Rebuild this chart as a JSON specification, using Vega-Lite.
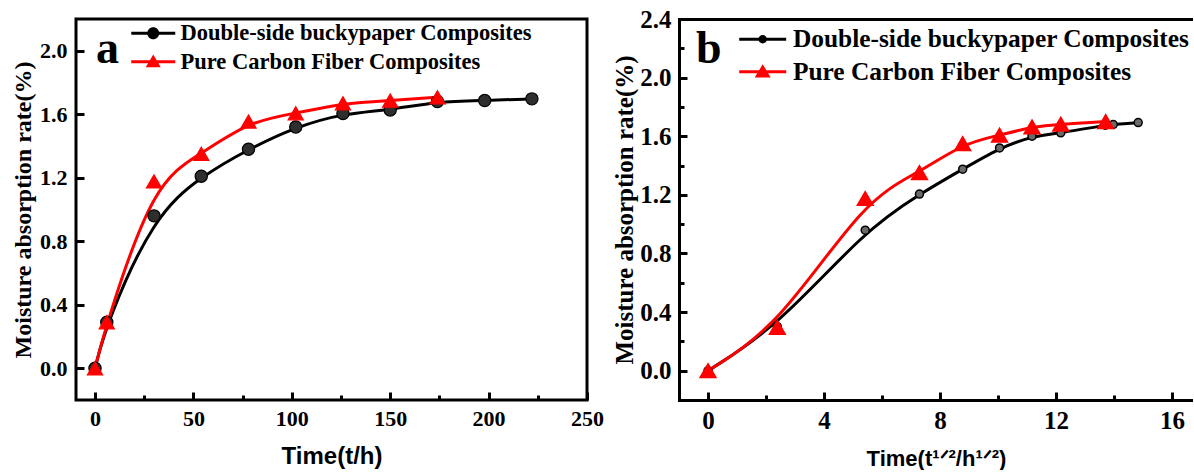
{
  "$schema": "https://vega.github.io/schema/vega-lite/v6.json",
  "background": "white",
  "padding": {"left": 10, "top": 7, "right": 0, "bottom": 0},
  "bounds": "flush",
  "spacing": 92,
  "config": {
    "font": "Liberation Serif",
    "view": {"stroke": "black", "strokeWidth": 3},
    "axis": {"grid": false, "labelColor": "black", "titleColor": "black", "tickColor": "black", "domainColor": "black"}
  },
  "datasets": {
    "a": [
      {"series": "Double-side buckypaper Composites", "t": 0, "rate": 0},
      {"series": "Double-side buckypaper Composites", "t": 6, "rate": 0.29},
      {"series": "Double-side buckypaper Composites", "t": 30, "rate": 0.96},
      {"series": "Double-side buckypaper Composites", "t": 54, "rate": 1.21},
      {"series": "Double-side buckypaper Composites", "t": 78, "rate": 1.38},
      {"series": "Double-side buckypaper Composites", "t": 102, "rate": 1.52},
      {"series": "Double-side buckypaper Composites", "t": 126, "rate": 1.605},
      {"series": "Double-side buckypaper Composites", "t": 150, "rate": 1.627},
      {"series": "Double-side buckypaper Composites", "t": 174, "rate": 1.68},
      {"series": "Double-side buckypaper Composites", "t": 198, "rate": 1.686},
      {"series": "Double-side buckypaper Composites", "t": 222, "rate": 1.697},
      {"series": "Pure Carbon Fiber Composites", "t": 0, "rate": 0},
      {"series": "Pure Carbon Fiber Composites", "t": 6, "rate": 0.29},
      {"series": "Pure Carbon Fiber Composites", "t": 30, "rate": 1.177},
      {"series": "Pure Carbon Fiber Composites", "t": 54, "rate": 1.351},
      {"series": "Pure Carbon Fiber Composites", "t": 78, "rate": 1.554},
      {"series": "Pure Carbon Fiber Composites", "t": 102, "rate": 1.606},
      {"series": "Pure Carbon Fiber Composites", "t": 126, "rate": 1.669},
      {"series": "Pure Carbon Fiber Composites", "t": 150, "rate": 1.686},
      {"series": "Pure Carbon Fiber Composites", "t": 174, "rate": 1.707}
    ],
    "b": [
      {"series": "Double-side buckypaper Composites", "t": 0, "rate": 0},
      {"series": "Double-side buckypaper Composites", "t": 2.39, "rate": 0.3},
      {"series": "Double-side buckypaper Composites", "t": 5.42, "rate": 0.959},
      {"series": "Double-side buckypaper Composites", "t": 7.29, "rate": 1.205},
      {"series": "Double-side buckypaper Composites", "t": 8.78, "rate": 1.375},
      {"series": "Double-side buckypaper Composites", "t": 10.05, "rate": 1.52},
      {"series": "Double-side buckypaper Composites", "t": 11.17, "rate": 1.6},
      {"series": "Double-side buckypaper Composites", "t": 12.16, "rate": 1.623},
      {"series": "Double-side buckypaper Composites", "t": 13.7, "rate": 1.675},
      {"series": "Double-side buckypaper Composites", "t": 13.97, "rate": 1.68},
      {"series": "Double-side buckypaper Composites", "t": 14.83, "rate": 1.693},
      {"series": "Pure Carbon Fiber Composites", "t": 0, "rate": 0},
      {"series": "Pure Carbon Fiber Composites", "t": 2.39, "rate": 0.295},
      {"series": "Pure Carbon Fiber Composites", "t": 5.42, "rate": 1.175},
      {"series": "Pure Carbon Fiber Composites", "t": 7.29, "rate": 1.352},
      {"series": "Pure Carbon Fiber Composites", "t": 8.78, "rate": 1.55},
      {"series": "Pure Carbon Fiber Composites", "t": 10.05, "rate": 1.607},
      {"series": "Pure Carbon Fiber Composites", "t": 11.17, "rate": 1.664},
      {"series": "Pure Carbon Fiber Composites", "t": 12.16, "rate": 1.682},
      {"series": "Pure Carbon Fiber Composites", "t": 13.71, "rate": 1.7}
    ]
  },
  "resolve": {
    "scale": {"x": "independent", "y": "independent", "color": "independent", "shape": "independent"},
    "legend": {"color": "independent", "shape": "independent"}
  },
  "hconcat": [
    {
      "width": 511,
      "height": 381,
      "data": {"name": "a"},
      "layer": [
        {
          "mark": {"type": "line", "interpolate": "basis", "strokeWidth": 3},
          "encoding": {
            "x": {
              "field": "t", "type": "quantitative",
              "scale": {"domain": [-9.65, 250], "nice": false, "zero": false},
              "axis": {
                "values": [0, 25, 50, 75, 100, 125, 150, 175, 200, 225, 250],
                "labelExpr": "datum.value % 50 === 0 ? datum.label : ''",
                "tickSize": {"condition": {"test": "datum.value % 50 === 0", "value": -8}, "value": -5},
                "tickWidth": 3,
                "domain": false,
                "labelPadding": 16,
                "labelFont": "Liberation Serif", "labelFontWeight": "bold", "labelFontSize": 22,
                "labelFlush": false, "labelOverlap": false,
                "title": "Time(t/h)", "titleFont": "Liberation Sans", "titleFontWeight": "bold", "titleFontSize": 24, "titlePadding": 12
              }
            },
            "y": {
              "field": "rate", "type": "quantitative",
              "scale": {"domain": [-0.2, 2.2], "nice": false, "zero": false},
              "axis": {
                "values": [0, 0.2, 0.4, 0.6, 0.8, 1.0, 1.2, 1.4, 1.6, 1.8, 2.0],
                "format": ".1f",
                "labelExpr": "round(datum.value * 10) % 4 === 0 ? datum.label : ''",
                "tickSize": {"condition": {"test": "round(datum.value * 10) % 4 === 0", "value": -8}, "value": -5},
                "tickWidth": 3,
                "domain": false,
                "labelPadding": 17,
                "labelFont": "Liberation Serif", "labelFontWeight": "bold", "labelFontSize": 22,
                "labelFlush": false, "labelOverlap": false,
                "title": "Moisture absorption rate(%)", "titleFont": "Liberation Serif", "titleFontWeight": "bold", "titleFontSize": 24, "titlePadding": 4
              }
            },
            "color": {
              "field": "series", "type": "nominal",
              "scale": {"domain": ["Double-side buckypaper Composites", "Pure Carbon Fiber Composites"], "range": ["#000000", "#ff0000"]},
              "legend": {
                "orient": "none", "legendX": 20, "legendY": 3,
                "title": "a", "titleOrient": "left",
                "titleFont": "Liberation Serif", "titleFontWeight": "bold", "titleFontSize": 46, "titleColor": "black",
                "titlePadding": 23, "titleBaseline": "bottom", "titleAnchor": "end",
                "labelFont": "Liberation Serif", "labelFontWeight": "bold", "labelFontSize": 22.5, "labelColor": "black",
                "labelLimit": 0, "labelOffset": 16,
                "symbolSize": 400, "symbolStrokeWidth": 0, "symbolOpacity": 1, "rowPadding": 5.5
              }
            }
          }
        },
        {
          "mark": {"type": "point", "filled": true, "opacity": 1, "strokeWidth": 1.2},
          "encoding": {
            "x": {"field": "t", "type": "quantitative"},
            "y": {"field": "rate", "type": "quantitative"},
            "shape": {"condition": {"test": "datum.series === 'Pure Carbon Fiber Composites'", "value": "triangle-up"}, "value": "circle"},
            "size": {"condition": {"test": "datum.series === 'Pure Carbon Fiber Composites'", "value": 230}, "value": 150},
            "fill": {"condition": {"test": "datum.series === 'Pure Carbon Fiber Composites'", "value": "#ff0000"}, "value": "#2e2e2e"},
            "stroke": {"condition": {"test": "datum.series === 'Pure Carbon Fiber Composites'", "value": "#ff0000"}, "value": "#000000"}
          }
        },
        {
          "mark": {"type": "point", "filled": true, "opacity": 0},
          "encoding": {
            "x": {"field": "t", "type": "quantitative"},
            "y": {"field": "rate", "type": "quantitative"},
            "color": {
              "field": "series", "type": "nominal",
              "legend": {
                "orient": "none", "legendX": 20, "legendY": 3,
                "title": "a", "titleOrient": "left",
                "titleFont": "Liberation Serif", "titleFontWeight": "bold", "titleFontSize": 46, "titleColor": "black",
                "titlePadding": 23, "titleBaseline": "bottom", "titleAnchor": "end",
                "labelFont": "Liberation Serif", "labelFontWeight": "bold", "labelFontSize": 22.5, "labelColor": "black",
                "labelLimit": 0, "labelOffset": 16,
                "symbolSize": 400, "symbolStrokeWidth": 0, "symbolOpacity": 1, "rowPadding": 5.5
              }
            },
            "shape": {
              "field": "series", "type": "nominal",
              "scale": {
                "domain": ["Double-side buckypaper Composites", "Pure Carbon Fiber Composites"],
                "range": [
                  "M-2.2,-0.15L2.2,-0.15L2.2,0.15L-2.2,0.15Z M0.6,0A0.6,0.6 0 1,1 -0.6,0A0.6,0.6 0 1,1 0.6,0Z",
                  "M-2.2,-0.15L2.2,-0.15L2.2,0.15L-2.2,0.15Z M0,-0.72L0.75,0.55L-0.75,0.55Z"
                ]
              },
              "legend": {
                "orient": "none", "legendX": 20, "legendY": 3,
                "title": "a", "titleOrient": "left",
                "titleFont": "Liberation Serif", "titleFontWeight": "bold", "titleFontSize": 46, "titleColor": "black",
                "titlePadding": 23, "titleBaseline": "bottom", "titleAnchor": "end",
                "labelFont": "Liberation Serif", "labelFontWeight": "bold", "labelFontSize": 22.5, "labelColor": "black",
                "labelLimit": 0, "labelOffset": 16,
                "symbolSize": 400, "symbolStrokeWidth": 0, "symbolOpacity": 1, "rowPadding": 5.5
              }
            }
          }
        }
      ]
    },
    {
      "width": 514,
      "height": 381,
      "data": {"name": "b"},
      "view": {"stroke": null},
      "resolve": {"axis": {"x": "independent", "y": "independent"}},
      "layer": [
        {
          "mark": {"type": "line", "interpolate": "basis", "strokeWidth": 3},
          "encoding": {
            "x": {
              "field": "t", "type": "quantitative",
              "scale": {"domain": [-1, 16.72], "nice": false, "zero": false},
              "axis": {
                "orient": "bottom",
                "values": [0, 2, 4, 6, 8, 10, 12, 14, 16],
                "labelExpr": "datum.value % 4 === 0 ? datum.label : ''",
                "tickSize": {"condition": {"test": "datum.value % 4 === 0", "value": -8}, "value": -5},
                "tickWidth": 3,
                "domain": true, "domainWidth": 3, "domainCap": "square",
                "labelPadding": 16,
                "labelFont": "Liberation Serif", "labelFontWeight": "bold", "labelFontSize": 25,
                "labelFlush": false, "labelOverlap": false,
                "title": "Time(t¹ᐟ²/h¹ᐟ²)", "titleFont": "Liberation Sans", "titleFontWeight": "bold", "titleFontSize": 22, "titlePadding": 12
              }
            },
            "y": {
              "field": "rate", "type": "quantitative",
              "scale": {"domain": [-0.2, 2.4], "nice": false, "zero": false},
              "axis": {
                "orient": "left",
                "values": [0, 0.2, 0.4, 0.6, 0.8, 1.0, 1.2, 1.4, 1.6, 1.8, 2.0, 2.2, 2.4],
                "format": ".1f",
                "labelExpr": "round(datum.value * 10) % 4 === 0 ? datum.label : ''",
                "tickSize": {"condition": {"test": "round(datum.value * 10) % 4 === 0", "value": -8}, "value": -5},
                "tickWidth": 3,
                "domain": true, "domainWidth": 3, "domainCap": "square",
                "labelPadding": 16,
                "labelFont": "Liberation Serif", "labelFontWeight": "bold", "labelFontSize": 25,
                "labelFlush": false, "labelOverlap": false,
                "title": "Moisture absorption rate(%)", "titleFont": "Liberation Serif", "titleFontWeight": "bold", "titleFontSize": 25, "titlePadding": 2
              }
            },
            "color": {
              "field": "series", "type": "nominal",
              "scale": {"domain": ["Double-side buckypaper Composites", "Pure Carbon Fiber Composites"], "range": ["#000000", "#ff0000"]},
              "legend": {
                "orient": "none", "legendX": 17, "legendY": 7.5,
                "title": "b", "titleOrient": "left",
                "titleFont": "Liberation Serif", "titleFontWeight": "bold", "titleFontSize": 46, "titleColor": "black",
                "titlePadding": 28, "titleBaseline": "top", "titleAnchor": "start",
                "labelFont": "Liberation Serif", "labelFontWeight": "bold", "labelFontSize": 25.4, "labelColor": "black",
                "labelLimit": 0, "labelOffset": 17.5,
                "symbolSize": 400, "symbolStrokeWidth": 0, "symbolOpacity": 1, "rowPadding": 5.6
              }
            }
          }
        },
        {
          "mark": {"type": "point", "filled": true, "opacity": 1, "strokeWidth": 1.5},
          "encoding": {
            "x": {
              "field": "t", "type": "quantitative",
              "axis": {"orient": "top", "labels": false, "ticks": false, "domain": true, "domainWidth": 3, "domainCap": "square", "title": null, "grid": false}
            },
            "y": {"field": "rate", "type": "quantitative", "axis": null},
            "shape": {"condition": {"test": "datum.series === 'Pure Carbon Fiber Composites'", "value": "triangle-up"}, "value": "circle"},
            "size": {"condition": {"test": "datum.series === 'Pure Carbon Fiber Composites'", "value": 250}, "value": 64},
            "fill": {"condition": {"test": "datum.series === 'Pure Carbon Fiber Composites'", "value": "#ff0000"}, "value": "#6a6a6a"},
            "stroke": {"condition": {"test": "datum.series === 'Pure Carbon Fiber Composites'", "value": "#ff0000"}, "value": "#000000"}
          }
        },
        {
          "mark": {"type": "point", "filled": true, "opacity": 0},
          "encoding": {
            "x": {"field": "t", "type": "quantitative", "axis": null},
            "y": {"field": "rate", "type": "quantitative", "axis": null},
            "color": {
              "field": "series", "type": "nominal",
              "legend": {
                "orient": "none", "legendX": 17, "legendY": 7.5,
                "title": "b", "titleOrient": "left",
                "titleFont": "Liberation Serif", "titleFontWeight": "bold", "titleFontSize": 46, "titleColor": "black",
                "titlePadding": 28, "titleBaseline": "top", "titleAnchor": "start",
                "labelFont": "Liberation Serif", "labelFontWeight": "bold", "labelFontSize": 25.4, "labelColor": "black",
                "labelLimit": 0, "labelOffset": 17.5,
                "symbolSize": 400, "symbolStrokeWidth": 0, "symbolOpacity": 1, "rowPadding": 5.6
              }
            },
            "shape": {
              "field": "series", "type": "nominal",
              "scale": {
                "domain": ["Double-side buckypaper Composites", "Pure Carbon Fiber Composites"],
                "range": [
                  "M-2.35,-0.15L2.35,-0.15L2.35,0.15L-2.35,0.15Z M0.42,0A0.42,0.42 0 1,1 -0.42,0A0.42,0.42 0 1,1 0.42,0Z",
                  "M-2.35,-0.15L2.35,-0.15L2.35,0.15L-2.35,0.15Z M0,-0.75L0.8,0.58L-0.8,0.58Z"
                ]
              },
              "legend": {
                "orient": "none", "legendX": 17, "legendY": 7.5,
                "title": "b", "titleOrient": "left",
                "titleFont": "Liberation Serif", "titleFontWeight": "bold", "titleFontSize": 46, "titleColor": "black",
                "titlePadding": 28, "titleBaseline": "top", "titleAnchor": "start",
                "labelFont": "Liberation Serif", "labelFontWeight": "bold", "labelFontSize": 25.4, "labelColor": "black",
                "labelLimit": 0, "labelOffset": 17.5,
                "symbolSize": 400, "symbolStrokeWidth": 0, "symbolOpacity": 1, "rowPadding": 5.6
              }
            }
          }
        }
      ]
    }
  ]
}
